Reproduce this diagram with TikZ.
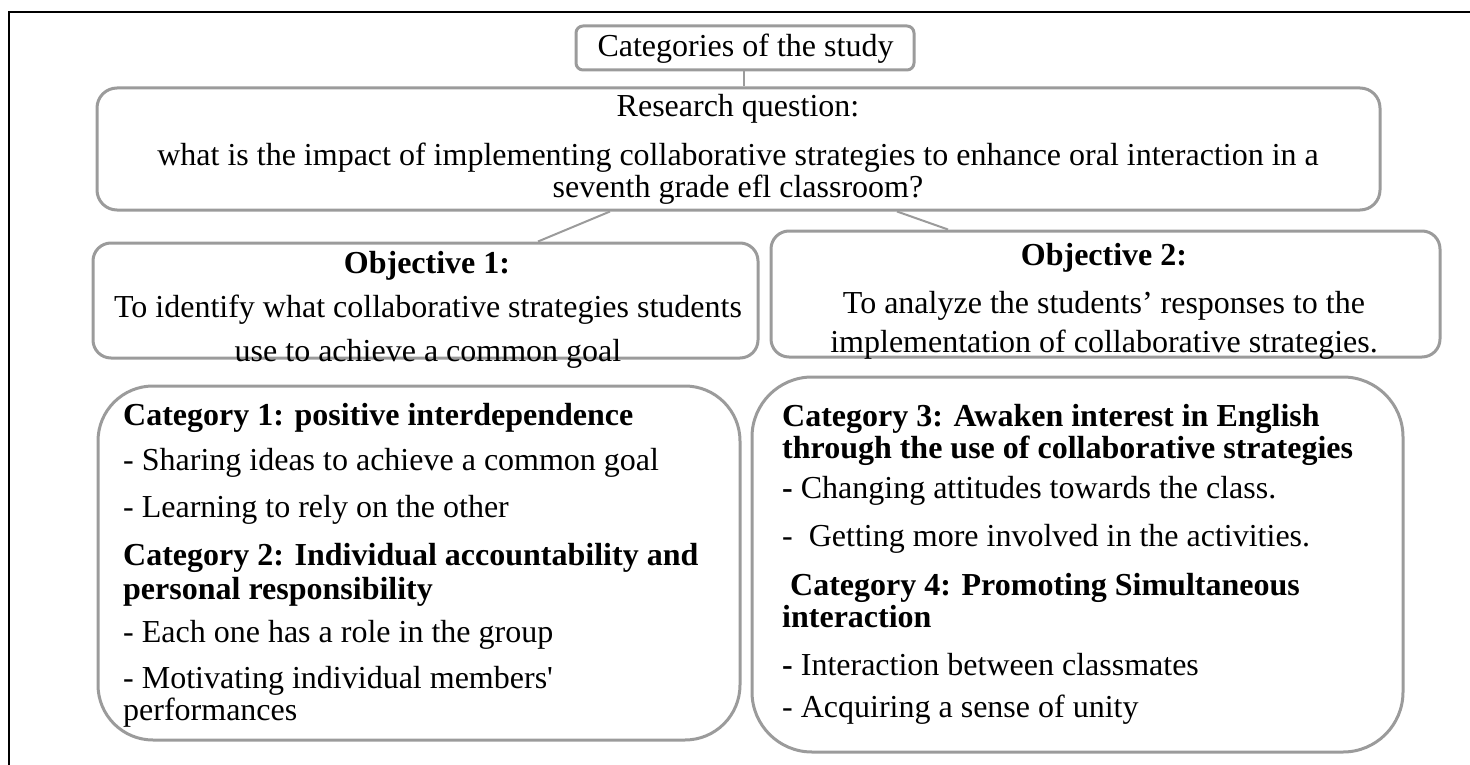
\documentclass[tikz,border=0pt]{standalone}
\usepackage{fontspec}
\setmainfont{Liberation Serif}[Ligatures=TeXOff]
\definecolor{boxgray}{HTML}{9B9B9B}
\begin{document}
\begin{tikzpicture}[x=1pt,y=-1pt,
  box/.style={draw=boxgray, line width=3pt, inner sep=0pt},
  conn/.style={draw=boxgray, line width=2pt},
  txt/.style={inner sep=0pt, anchor=base west, font=\fontsize{32}{36}\selectfont},
  ctxt/.style={txt, anchor=base}]
\useasboundingbox (0,0) rectangle (1470,765);
% frame
\draw[line width=2pt] (9,766) coordinate (fl) -- (9,12) coordinate (ft) -- (1471,12) coordinate (fr);
% boxes
\node[box, rounded corners=7pt, minimum width=338pt, minimum height=44pt] (A) at (745,48) {};
\node[box, rounded corners=20pt, minimum width=1283pt, minimum height=122pt] (B) at (738.5,149) {};
\node[box, rounded corners=18pt, minimum width=665pt, minimum height=115pt] (C) at (425.5,300.5) {};
\node[box, rounded corners=18pt, minimum width=669pt, minimum height=126pt] (D) at (1105.5,294) {};
\node[box, rounded corners=55pt, minimum width=642pt, minimum height=354pt] (E) at (419,563) {};
\node[box, rounded corners=60pt, minimum width=651pt, minimum height=375pt] (F) at (1077.5,564.5) {};
% connectors
\draw[conn] ([xshift=-1pt]A.south) -- ([xshift=5.5pt]B.north);
\draw[conn] ([xshift=-128.5pt]B.south) -- ([xshift=112.5pt]C.north);
\draw[conn] ([xshift=158.5pt]B.south) -- ([xshift=-157.5pt]D.north);
% texts
\node[ctxt] (tA) at (745.5,57) {Categories of the study};
\node[ctxt] (tB1) at (738,117) {Research question:};
\node[ctxt] (tB2) at (738,165) {what is the impact of implementing collaborative strategies to enhance oral interaction in a};
\node[ctxt] (tB3) at (738,197) {seventh grade efl classroom?};
\node[ctxt] (tC1) at (427,273) {\bfseries Objective 1:};
\node[ctxt] (tC2) at (428,317) {To identify what collaborative strategies students};
\node[ctxt] (tC3) at (428,361) {use to achieve a common goal};
\node[ctxt] (tD1) at (1104,265) {\bfseries Objective 2:};
\node[ctxt] (tD2) at (1104,313) {To analyze the students’ responses to the};
\node[ctxt] (tD3) at (1104,352) {implementation of collaborative strategies.};
% category 1/2
\node[txt] (e1) at (123,425) {\bfseries Category 1: positive interdependence};
\node[txt] (e2) at (123,470) {- Sharing ideas to achieve a common goal};
\node[txt] (e3) at (123,517) {- Learning to rely on the other};
\node[txt] (e4) at (123,565) {\bfseries Category 2: Individual accountability and};
\node[txt] (e5) at (123,599) {\bfseries personal responsibility};
\node[txt] (e6) at (123,642) {- Each one has a role in the group};
\node[txt] (e7) at (123,688) {- Motivating individual members'};
\node[txt] (e8) at (123,720) {performances};
% category 3/4
\node[txt] (f1) at (782,426) {\bfseries Category 3: Awaken interest in English};
\node[txt] (f2) at (782,458) {\bfseries through the use of collaborative strategies};
\node[txt] (f3) at (782,498) {\textbf{-} Changing attitudes towards the class.};
\node[txt] (f4) at (782,546) {-\ \ Getting more involved in the activities.};
\node[txt] (f5) at (790,595) {\bfseries Category 4: Promoting Simultaneous};
\node[txt] (f6) at (782,627) {\bfseries interaction};
\node[txt] (f7) at (782,675) {\textbf{-} Interaction between classmates};
\node[txt] (f8) at (782,717) {- Acquiring a sense of unity};
\end{tikzpicture}
\end{document}
